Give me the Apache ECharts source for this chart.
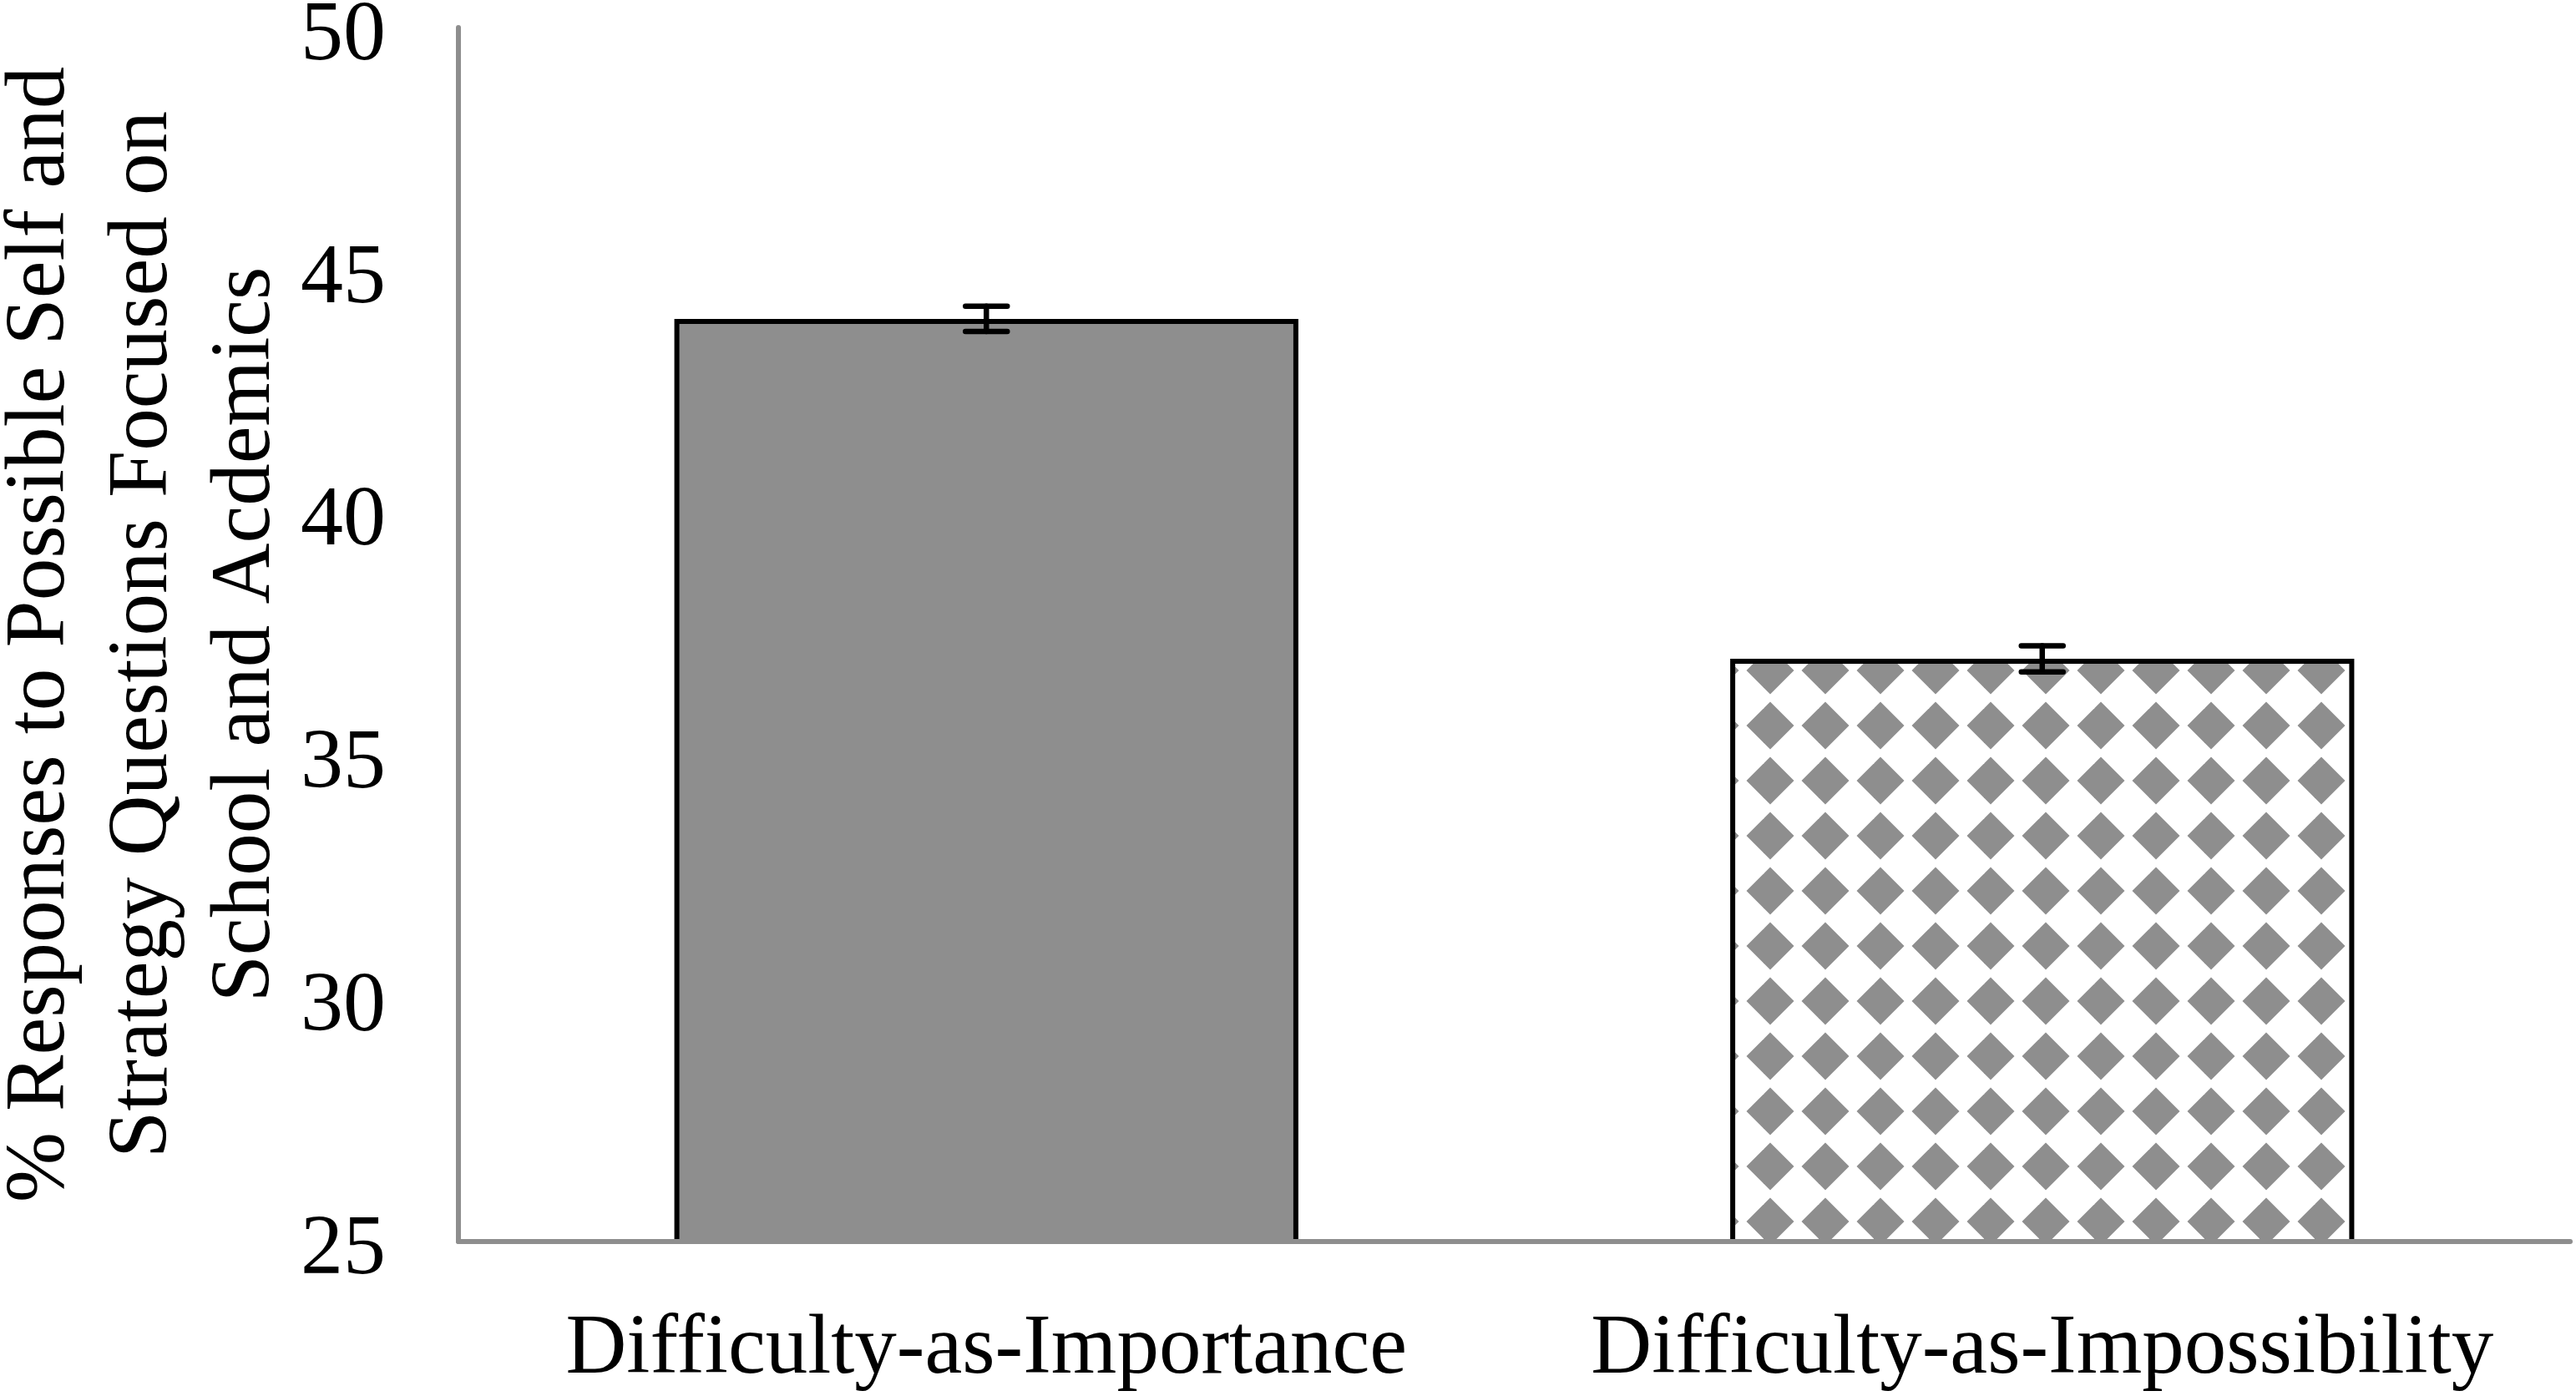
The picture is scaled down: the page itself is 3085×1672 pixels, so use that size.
<!DOCTYPE html>
<html><head><meta charset="utf-8">
<script src="https://cdn.jsdelivr.net/npm/echarts@6/dist/echarts.min.js"></script>
<style>html,body{margin:0;padding:0;background:#fff}#c{width:3085px;height:1672px}</style>
</head><body><div id="c"></div>
<script>
const categories = ['Difficulty-as-Importance', 'Difficulty-as-Impossibility'];
const values = [44.0, 37.0];
const errors = [0.26, 0.27];
const yMin = 25, yMax = 50, yInterval = 5;
const yTitle = '% Responses to Possible Self and\nStrategy Questions Focused on\nSchool and Acdemics';

const GREY = '#8e8e8e';
const FONT = '"Liberation Serif", "Times New Roman", serif';

function diamondPattern() {
  const t = 66, c = document.createElement('canvas');
  c.width = t; c.height = t;
  const g = c.getContext('2d');
  g.fillStyle = '#fff'; g.fillRect(0, 0, t, t);
  g.fillStyle = GREY;
  const h = 28.5, cx = 8, cy = 11;
  for (const dx of [-t, 0, t]) for (const dy of [-t, 0, t]) {
    g.beginPath();
    g.moveTo(cx + dx, cy + dy - h);
    g.lineTo(cx + dx + h, cy + dy);
    g.lineTo(cx + dx, cy + dy + h);
    g.lineTo(cx + dx - h, cy + dy);
    g.closePath(); g.fill();
  }
  return c;
}
const fills = [GREY, { image: diamondPattern(), repeat: 'repeat' }];

const chart = echarts.init(document.getElementById('c'), null, { renderer: 'canvas' });
chart.setOption({
  animation: false,
  backgroundColor: '#fff',
  grid: { left: 549, right: 7, top: 33, bottom: 185, containLabel: false, outerBoundsMode: 'none' },
  xAxis: {
    type: 'category', data: categories, z: 5,
    axisLine: { lineStyle: { color: GREY, width: 6 } },
    axisTick: { show: false },
    axisLabel: { color: '#000', fontFamily: FONT, fontSize: 101, margin: 80, interval: 0, hideOverlap: false },
    splitLine: { show: false }
  },
  yAxis: {
    type: 'value', min: yMin, max: yMax, interval: yInterval, z: 5,
    axisLine: { show: true, lineStyle: { color: GREY, width: 6 } },
    axisTick: { show: false },
    splitLine: { show: false },
    axisLabel: {
      color: '#000', fontFamily: FONT, fontSize: 102, margin: 87,
      formatter: v => '{t|' + v + '}',
      rich: { t: { color: '#000', fontFamily: FONT, fontSize: 102, padding: [22, 0, 0, 0] } }
    },
    name: yTitle, nameLocation: 'middle', nameGap: 192, nameRotate: 90, nameMoveOverlap: false,
    nameTextStyle: { color: '#000', fontFamily: FONT, fontSize: 101, lineHeight: 123, align: 'center' }
  },
  series: [
    {
      type: 'bar', barWidth: '59.1%',
      data: values.map((v, i) => ({ value: v, itemStyle: { color: fills[i] } })),
      itemStyle: { borderColor: '#000', borderWidth: 6 }
    },
    {
      type: 'custom', z: 6,
      data: values.map((v, i) => [i, v, errors[i]]),
      renderItem: function (params, api) {
        const x = api.value(0), v = api.value(1), e = api.value(2);
        const top = api.coord([x, v + e]);
        const bot = api.coord([x, v - e]);
        const hw = 25;
        const style = { stroke: '#000', lineWidth: 6.5, lineCap: 'round' };
        return {
          type: 'group', children: [
            { type: 'line', shape: { x1: top[0], y1: top[1], x2: bot[0], y2: bot[1] }, style },
            { type: 'line', shape: { x1: top[0] - hw, y1: top[1], x2: top[0] + hw, y2: top[1] }, style },
            { type: 'line', shape: { x1: bot[0] - hw, y1: bot[1], x2: bot[0] + hw, y2: bot[1] }, style }
          ]
        };
      }
    }
  ]
});
</script></body></html>
